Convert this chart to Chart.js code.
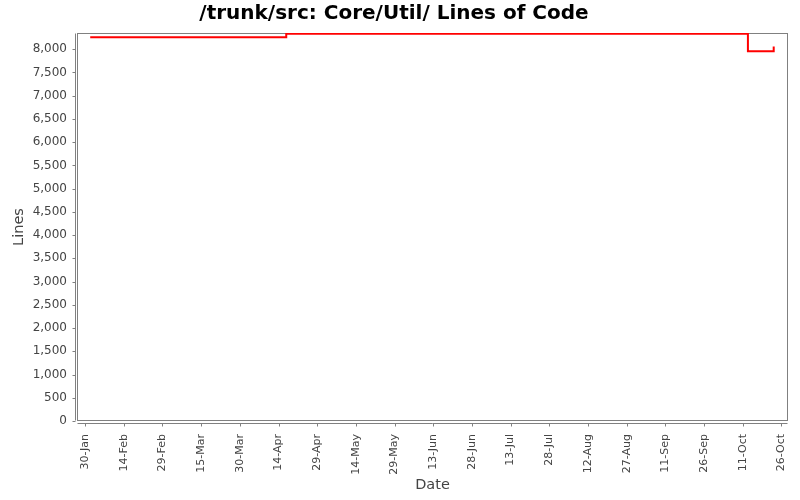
<!DOCTYPE html>
<html>
<head>
<meta charset="utf-8">
<title>/trunk/src: Core/Util/ Lines of Code</title>
<script src="https://cdn.jsdelivr.net/npm/chart.js@4/dist/chart.umd.min.js"></script>
<style>
  html, body { margin: 0; padding: 0; background: #fff; }
  #wrap { width: 800px; height: 500px; }
</style>
</head>
<body>
<div id="wrap"><canvas id="locChart"></canvas></div>
<script>
// --- Data: ---
const commitDates = ['2008-02-01', '2008-04-17', '2008-10-13', '2008-10-23'];
const linesOfCode = [8256, 8333, 7957, 8060];

// tick labels
const dateTicks = [
  '2008-01-30', '2008-02-14', '2008-02-29', '2008-03-15', '2008-03-30',
  '2008-04-14', '2008-04-29', '2008-05-14', '2008-05-29', '2008-06-13',
  '2008-06-28', '2008-07-13', '2008-07-28', '2008-08-12', '2008-08-27',
  '2008-09-11', '2008-09-26', '2008-10-11', '2008-10-26'
];
const lineTicks = [0, 500, 1000, 1500, 2000, 2500, 3000, 3500, 4000,
  4500, 5000, 5500, 6000, 6500, 7000, 7500, 8000];
const monthNames = ['Jan', 'Feb', 'Mar', 'Apr', 'May', 'Jun',
  'Jul', 'Aug', 'Sep', 'Oct', 'Nov', 'Dec'];

// axis ranges
const dateRange = ['2008-01-26T21:00Z', '2008-10-28T13:00Z'];
const lineRange = [0, 8350];

const FONT = "'DejaVu Sans', sans-serif";

// Draws the plot frame and the axis lines (set a little off the plot)
const framePlugin = {
  id: 'frame',
  beforeDatasetsDraw(chart) {
    const { ctx, chartArea: a, scales } = chart;
    const L = Math.round(a.left) + 0.5, T = Math.round(a.top) + 0.5;
    const R = Math.round(a.right) - 0.5, B = Math.round(a.bottom) - 0.5;
    ctx.save();
    ctx.strokeStyle = '#808080';
    ctx.lineWidth = 1;
    ctx.strokeRect(L, T, R - L, B - T);
    ctx.beginPath();
    // y axis
    ctx.moveTo(L - 2, T); ctx.lineTo(L - 2, B);
    scales.y.ticks.forEach(t => {
      const py = Math.round(scales.y.getPixelForValue(t.value)) + 0.5;
      ctx.moveTo(L - 5, py); ctx.lineTo(L - 2, py);
    });
    // x axis
    ctx.moveTo(L, B + 3); ctx.lineTo(R, B + 3);
    scales.x.ticks.forEach(t => {
      const px = Math.round(scales.x.getPixelForValue(t.value)) + 0.5;
      ctx.moveTo(px, B + 3); ctx.lineTo(px, B + 6);
    });
    ctx.stroke();
    ctx.restore();
  }
};

const createLocChart = () => {
  const ctx = document.querySelector('#locChart').getContext('2d');
  new Chart(ctx, {
    type: 'line',
    data: {
      datasets: [
        {
          label: 'Lines of Code',
          data: commitDates.map((d, i) => ({ x: Date.parse(d), y: linesOfCode[i] })),
          borderColor: '#ff0000',
          backgroundColor: '#ff0000',
          borderWidth: 2,
          stepped: true,
          pointRadius: 0,
          fill: false
        }
      ]
    },
    options: {
      responsive: true,
      maintainAspectRatio: false,
      animation: false,
      layout: { padding: { left: 0, right: 12, top: 0, bottom: 0 } },
      plugins: {
        legend: { display: false },
        tooltip: { enabled: false },
        title: {
          display: true,
          text: '/trunk/src: Core/Util/ Lines of Code',
          color: '#000',
          font: { family: FONT, size: 20, weight: 'bold' },
          padding: { top: 2, bottom: 7 }
        }
      },
      scales: {
        x: {
          type: 'linear',
          min: Date.parse(dateRange[0]),
          max: Date.parse(dateRange[1]),
          grid: { display: false, drawTicks: false },
          border: { display: false },
          afterBuildTicks: scale => {
            scale.ticks = dateTicks.map(d => ({ value: Date.parse(d) }));
          },
          afterFit: scale => {
            scale.height = 79;
            scale.paddingLeft = 0;
            scale.paddingRight = 0;
          },
          ticks: {
            autoSkip: false,
            minRotation: 90,
            maxRotation: 90,
            padding: 13,
            color: '#444',
            font: { family: FONT, size: 11 },
            callback: value => {
              const d = new Date(value);
              return d.getUTCDate() + '-' + monthNames[d.getUTCMonth()];
            }
          },
          title: {
            display: true,
            text: 'Date',
            color: '#444',
            font: { family: FONT, size: 14.5 },
            padding: { top: 0, bottom: 6 }
          }
        },
        y: {
          min: lineRange[0],
          max: lineRange[1],
          grid: { display: false, drawTicks: false },
          border: { display: false },
          afterBuildTicks: scale => {
            scale.ticks = lineTicks.map(v => ({ value: v }));
          },
          afterFit: scale => {
            scale.width = 77;
            scale.paddingTop = 0;
            scale.paddingBottom = 0;
          },
          ticks: {
            padding: 10,
            color: '#444',
            font: { family: FONT, size: 12 },
            callback: value => value.toLocaleString('en-US')
          },
          title: {
            display: true,
            text: 'Lines',
            color: '#444',
            font: { family: FONT, size: 14.5 },
            padding: { top: 11, bottom: 0 }
          }
        }
      }
    },
    plugins: [framePlugin]
  });
};

createLocChart();
</script>
</body>
</html>
